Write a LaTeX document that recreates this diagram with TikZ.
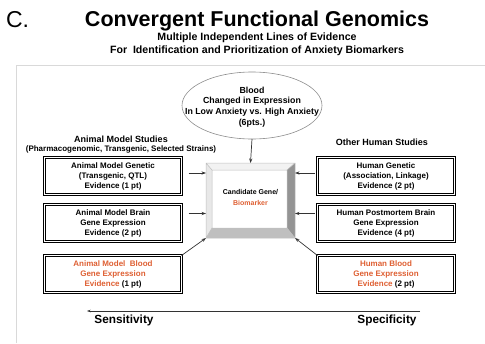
\documentclass[tikz,border=0pt]{standalone}
\usepackage{fontspec}
\setmainfont{Liberation Sans}
\usetikzlibrary{arrows.meta,positioning,calc,shapes.geometric}
\definecolor{bloodred}{RGB}{222,95,50}

\begin{document}
\begin{tikzpicture}[x=1pt, y=-1pt, auto,
    every node/.style={inner sep=0pt, outer sep=0pt, align=center},
    evbox/.style={rectangle, draw, double, double distance=1.2pt, line width=0.95pt,
      minimum width=137pt, minimum height=37pt, font=\bfseries\fontsize{8}{10}\selectfont},
    arr/.style={-{Stealth[length=4.5pt,width=3.2pt]}, draw=black!80, line width=0.7pt}]
  \useasboundingbox (0,0) rectangle (485,343);
  \draw[black!15, line width=0.8pt] (16,343) -- (16,65) -- (485,65);

  % heading
  \node (lbl) [anchor=base west, font=\fontsize{23}{23}\selectfont] at (6,27) {C.};
  \node (title) [anchor=base, font=\bfseries\fontsize{21.5}{24}\selectfont] at (257,26) {Convergent Functional Genomics};
  \node (sub1) [anchor=base, font=\bfseries\fontsize{10.6}{13}\selectfont] at (257,40.5) {Multiple Independent Lines of Evidence};
  \node (sub2) [anchor=base, font=\bfseries\fontsize{10.6}{13}\selectfont] at (257,53) {For\ \ Identification and Prioritization of Anxiety Biomarkers};

  % blood
  \node (blood) [ellipse, draw=black!45, line width=0.6pt, minimum width=140pt, minimum height=67pt] at (252,105.5) {};
  \node (bloodtxt) [font=\bfseries\fontsize{8.8}{10.7}\selectfont] at (252,107) {Blood\\Changed in Expression\\In Low Anxiety vs. High Anxiety\\(6pts.)};

  % candidate box
  \node (cand) [minimum width=89pt, minimum height=75pt] at (250.5,200.5) {};
  \coordinate (cnw) at ($(cand.north west)+(6,7)$);
  \coordinate (cne) at ($(cand.north east)+(-8,7)$);
  \coordinate (cse) at ($(cand.south east)+(-8,-10)$);
  \coordinate (csw) at ($(cand.south west)+(6,-10)$);
  \fill[black!5] (cand.north west) -- (cand.north east) -- (cne) -- (cnw) -- cycle;
  \fill[black!9] (cand.north west) -- (cnw) -- (csw) -- (cand.south west) -- cycle;
  \fill[black!42] (cand.north east) -- (cand.south east) -- (cse) -- (cne) -- cycle;
  \fill[black!25] (cand.south west) -- (csw) -- (cse) -- (cand.south east) -- cycle;
  \draw[black!25, line width=0.5pt] (cand.north west) rectangle (cand.south east) (cnw) rectangle (cse)
    (cand.north west) -- (cnw) (cand.north east) -- (cne) (cand.south east) -- (cse) (cand.south west) -- (csw);
  \node (candtxt) [font=\bfseries\fontsize{7}{11}\selectfont] at (250.5,197.5) {Candidate Gene/\\\textcolor{bloodred}{Biomarker}};

  % animal model side
  \node (amhead) [anchor=base, font=\bfseries\fontsize{9}{11}\selectfont] at (121,142) {Animal Model Studies};
  \node (amsub) [anchor=base, font=\bfseries\fontsize{8}{10}\selectfont] at (121,151.5) {(Pharmacogenomic, Transgenic, Selected Strains)};
  \node (am1) [evbox] at (113,176) {Animal Model Genetic\\(Transgenic, QTL)\\Evidence (1 pt)};
  \node (am2) [evbox, below=10pt of am1] {Animal Model Brain\\Gene Expression\\Evidence (2 pt)};
  \node (am3) [evbox, below=14pt of am2] {\textcolor{bloodred}{Animal Model\ \ Blood}\\\textcolor{bloodred}{Gene Expression}\\\textcolor{bloodred}{Evidence} (1 pt)};

  % human side
  \node (huhead) [anchor=base, font=\bfseries\fontsize{9}{11}\selectfont] at (382,145.5) {Other Human Studies};
  \node (hu1) [evbox] at (386,176) {Human Genetic\\(Association, Linkage)\\Evidence (2 pt)};
  \node (hu2) [evbox, below=10pt of hu1] {Human Postmortem Brain\\Gene Expression\\Evidence (4 pt)};
  \node (hu3) [evbox, below=14pt of hu2] {\textcolor{bloodred}{Human Blood}\\\textcolor{bloodred}{Gene Expression}\\\textcolor{bloodred}{Evidence} (2 pt)};

  \draw[arr] (blood.south) -- (cand.north);
  \draw[arr, shorten <=7pt] ([yshift=3pt]am1.east) -- ([yshift=3pt]am1.east -| cand.west);
  \draw[arr, shorten <=7pt] ([yshift=9.5pt]am2.east) -- ([yshift=9.5pt]am2.east -| cand.west);
  \draw[arr] (am3.north east) -- (cand.south west);
  \draw[arr, shorten <=3pt] ([yshift=3pt]hu1.west) -- ([yshift=3pt]hu1.west -| cand.east);
  \draw[arr, shorten <=3pt] ([yshift=9.5pt]hu2.west) -- ([yshift=9.5pt]hu2.west -| cand.east);
  \draw[arr] (hu3.north west) -- (cand.south east);

  % scale
  \coordinate (sensL) at (87,311);
  \coordinate (specR) at (420,311);
  \draw[arr, line width=0.6pt, -{Stealth[length=3.5pt,width=2.5pt]}] (specR) -- (sensL);
  \node (sens) [anchor=base, font=\bfseries\fontsize{11.8}{14}\selectfont] at (124,323) {Sensitivity};
  \node (spec) [anchor=base, font=\bfseries\fontsize{11.8}{14}\selectfont] at (387,323) {Specificity};
\end{tikzpicture}
\end{document}
